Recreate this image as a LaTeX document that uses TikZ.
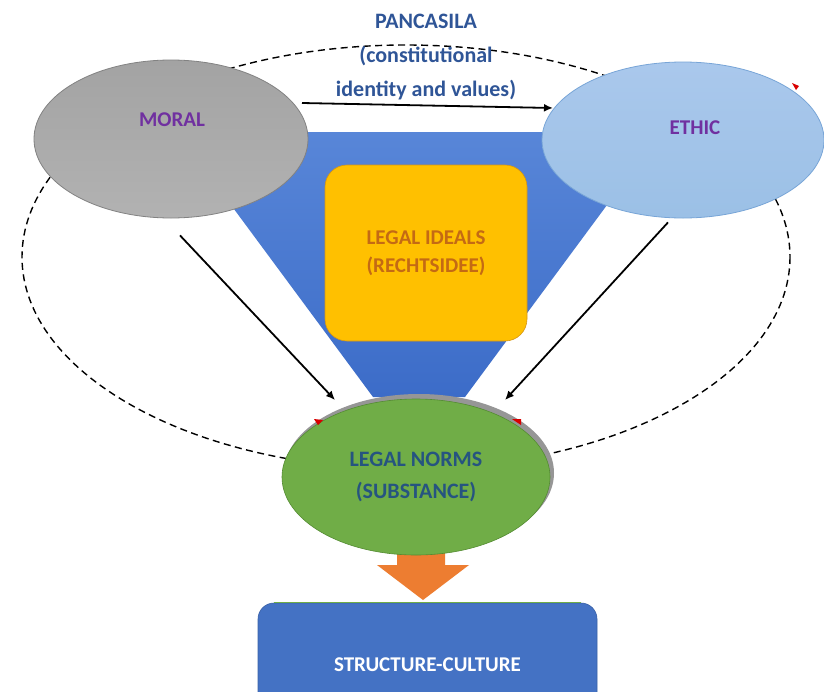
\documentclass[tikz,border=0pt]{standalone}
\usepackage{fontspec}
\setmainfont{Carlito}
\usetikzlibrary{calc,shapes.geometric,arrows.meta}

\definecolor{titleblue}{RGB}{47,85,151}
\definecolor{purpletxt}{RGB}{112,48,160}
\definecolor{tritop}{RGB}{88,134,216}
\definecolor{tribot}{RGB}{60,108,200}
\definecolor{idealfill}{RGB}{255,192,0}
\definecolor{idealdraw}{RGB}{214,150,20}
\definecolor{idealtxt}{RGB}{196,106,20}
\definecolor{moraltop}{RGB}{163,163,163}
\definecolor{moralbot}{RGB}{178,178,178}
\definecolor{moraldraw}{RGB}{130,130,130}
\definecolor{ethictop}{RGB}{170,200,236}
\definecolor{ethicbot}{RGB}{155,192,230}
\definecolor{ethicdraw}{RGB}{120,165,215}
\definecolor{normfill}{RGB}{112,173,71}
\definecolor{normdraw}{RGB}{84,140,50}
\definecolor{normtxt}{RGB}{38,84,128}
\definecolor{rimgray}{RGB}{150,150,150}
\definecolor{flowarrow}{RGB}{237,125,49}
\definecolor{boxblue}{RGB}{68,114,196}
\definecolor{boxgreen}{RGB}{112,173,71}

\tikzset{
  lbl/.style={font=\fontsize{21}{28}\selectfont\bfseries, align=center, inner sep=0pt},
  moralshape/.style={ellipse, minimum width=274pt, minimum height=158pt, inner sep=0pt,
    top color=moraltop, bottom color=moralbot, draw=moraldraw, line width=0.8pt},
  ethicshape/.style={ellipse, minimum width=282pt, minimum height=156pt, inner sep=0pt,
    top color=ethictop, bottom color=ethicbot, draw=ethicdraw, line width=0.8pt},
  idealbox/.style={rectangle, rounded corners=22pt, minimum width=202pt, minimum height=176pt,
    fill=idealfill, draw=idealdraw, line width=0.6pt, lbl, text=idealtxt},
  normrim/.style={ellipse, minimum width=270pt, minimum height=158pt, inner sep=0pt,
    fill=rimgray},
  normshape/.style={ellipse, minimum width=268pt, minimum height=156pt, inner sep=0pt,
    fill=normfill, draw=normdraw, line width=0.6pt, lbl, text=normtxt,
    font=\fontsize{22}{32}\selectfont\bfseries},
  scbox/.style={rectangle, rounded corners=16pt, minimum width=339pt, minimum height=124pt,
    fill=boxblue, draw=boxblue!85!black, line width=0.6pt, lbl, text=white},
  link/.style={line width=1.8pt, -{Latex[length=9pt,width=8pt]}},
  ring/.style={line width=1.4pt, dash pattern=on 7pt off 4.5pt},
  marker/.style={fill=red!85!black}
}

\begin{document}
\begin{tikzpicture}[x=1pt,y=-1pt]
\useasboundingbox (0,0) rectangle (824,691);
\clip (0,0) rectangle (824,691);
\fill[white] (0,0) rectangle (824,691);

% dashed outer ring
\draw[ring] (406,257) ellipse [x radius=384, y radius=212];

% blue funnel behind the ideals box
\shade[top color=tritop, bottom color=tribot]
  (177,132) -- (661,132) -- (465,397) -- (373,397) -- cycle;

% legal ideals
\node[idealbox] (ideals) at (426,253) {LEGAL IDEALS\\(RECHTSIDEE)};

% moral and ethic
\node[moralshape] (moral) at (171,139) {};
\node[lbl, text=purpletxt] (moraltxt) at (172,120) {MORAL};
\node[ethicshape] (ethic) at (683,140) {};
\node[lbl, text=purpletxt] (ethictxt) at (695,128) {ETHIC};
\fill[marker] (792,83) -- (799,86) -- (796,90) -- cycle;

% title
\node[lbl, text=titleblue, font=\fontsize{22}{34}\selectfont\bfseries] (title) at (426,57)
  {PANCASILA\\(constitutional\\identity and values)};

% flow arrow towards structure-culture
\coordinate (tip) at (423,600);
\fill[flowarrow] (tip) -- ++(-46,-35) -- ++(20,0) -- ++(0,-22) -- ++(48,0)
  -- ++(0,22) -- ++(24,0) -- cycle;

% legal norms
\node[normrim] (rim) at (419,473) {};
\node[normshape] (norms) at (416,477) {LEGAL NORMS\\(SUBSTANCE)};
\fill[marker] (314,419) -- (323,420) -- (318,425) -- cycle;
\fill[marker] (512,419) -- (521,419) -- (521,425) -- cycle;

% structure-culture
\node[scbox] (sc) at (427.5,665) {STRUCTURE-CULTURE};
\draw[boxgreen, line width=1pt] ([xshift=16pt]sc.north west) -- ([xshift=-16pt]sc.north east);

% connectors
\draw[link] ($(moral.center)+(131,-36)$) -- ($(ethic.center)+(-130,-32)$);
\draw[link] ($(moral.south)+(9,17)$) -- ($(norms.center)+(-81,-77)$);
\draw[link] ($(ethic.south)+(-15,4)$) -- ($(norms.center)+(89,-77)$);
\end{tikzpicture}
\end{document}
